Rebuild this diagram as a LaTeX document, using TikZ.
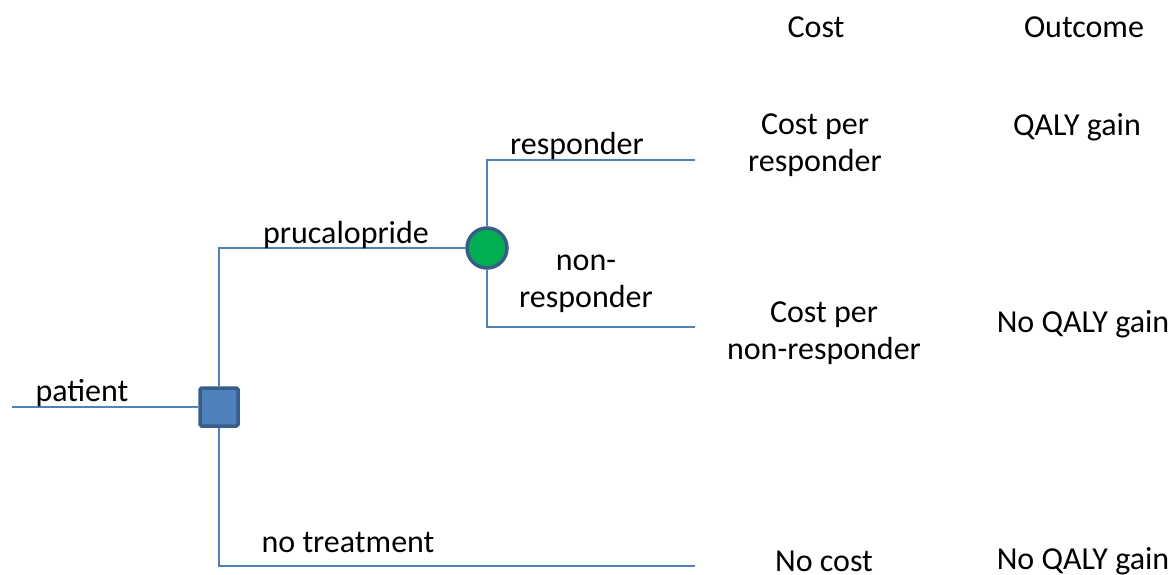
\documentclass[tikz,border=0pt]{standalone}
\usepackage{fontspec}
\setmainfont{Carlito}
\definecolor{lineblue}{HTML}{4F81BD}
\definecolor{darkblue}{HTML}{385D8A}
\definecolor{chancegreen}{HTML}{00B050}
\begin{document}
\begin{tikzpicture}[x=1pt,y=-1pt,
  branch/.style={draw=lineblue,line width=1.4pt},
  lbl/.style={font=\fontsize{32}{37}\selectfont,inner sep=0pt,align=center,text=black},
  decision/.style={draw=darkblue,fill=lineblue,line width=3.5pt,minimum size=38pt,inner sep=0pt,rounded corners=1.5pt},
  chance/.style={circle,draw=darkblue,fill=chancegreen,line width=3.5pt,minimum size=40pt,inner sep=0pt}]
\path[use as bounding box] (0,0) rectangle (1170,574);
% nodes
\coordinate (start) at (12,407);
\node[decision] (dec) at (219,407) {};
\coordinate (jtop) at (219,248);
\coordinate (jbot) at (219,566);
\node[chance] (ch) at (487,248) {};
\coordinate (ctop) at (487,160);
\coordinate (cbot) at (487,327);
\coordinate (eresp) at (695,160);
\coordinate (enon) at (695,327);
\coordinate (enone) at (695,566);
% connectors
\draw[branch] (start) -- (dec.west);
\draw[branch] (dec.north) -- (jtop) -- (ch.west);
\draw[branch] (dec.south) -- (jbot) -- (enone);
\draw[branch] (ch.north) -- (ctop) -- (eresp);
\draw[branch] (ch.south) -- (cbot) -- (enon);
% labels
\node[lbl] (hcost) at (816,27) {Cost};
\node[lbl] (hout) at (1084,27) {Outcome};
\node[lbl] (lpat) at (82,393) {patient};
\node[lbl] (lpru) at (346,235) {prucalopride};
\node[lbl] (lresp) at (577,146) {responder};
\node[lbl] (lnon) at (586,284) {non-\\responder};
\node[lbl] (lnot) at (348,542) {no treatment};
\node[lbl] (cresp) at (815,145) {Cost per\\responder};
\node[lbl] (cnon) at (824,333) {Cost per\\non-responder};
\node[lbl] (cnone) at (824,561) {No cost};
\node[lbl] (oresp) at (1077,127) {QALY gain};
\node[lbl] (onon) at (1083,324) {No QALY gain};
\node[lbl] (onone) at (1083,561) {No QALY gain};
\end{tikzpicture}
\end{document}
